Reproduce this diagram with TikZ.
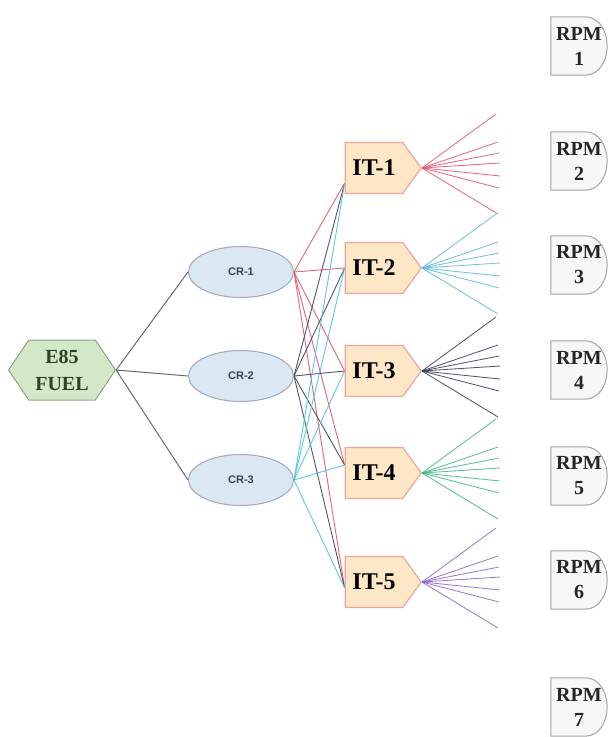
\documentclass[tikz,border=0pt]{standalone}
\usepackage{fontspec}
\setmainfont{Liberation Serif}
\newfontfamily\crfont{Liberation Sans}
\usetikzlibrary{shapes.geometric,shapes.symbols,backgrounds,calc}

\definecolor{fuelfill}{HTML}{D2E8C6}
\definecolor{fueledge}{HTML}{8FA486}
\definecolor{fueltext}{HTML}{2C4426}
\definecolor{crfill}{HTML}{DCE7F4}
\definecolor{credge}{HTML}{9EA8B4}
\definecolor{crtext}{HTML}{3C4450}
\definecolor{itfill}{HTML}{FDE7C6}
\definecolor{itedge}{HTML}{F2A49C}
\definecolor{rpmfill}{HTML}{F7F7F7}
\definecolor{rpmedge}{HTML}{A4A4A4}
\definecolor{feedline}{HTML}{6A6A6A}
\definecolor{crred}{HTML}{E8506A}
\definecolor{crdark}{HTML}{3A4458}
\definecolor{crcyan}{HTML}{44C4E2}
\definecolor{fanred}{HTML}{E2506A}
\definecolor{fanblue}{HTML}{58B6DA}
\definecolor{fannavy}{HTML}{343A58}
\definecolor{fangreen}{HTML}{3EB486}
\definecolor{fanviolet}{HTML}{8A62C8}

\begin{document}
\begin{tikzpicture}[x=1pt,y=-1pt,
  fuelbox/.style={shape=signal, signal to=east and west, signal pointer angle=112,
    fill=fuelfill, draw=fueledge, line width=1pt, minimum width=107pt,
    minimum height=60pt, inner sep=0pt, text=fueltext, align=center,
    font=\bfseries\fontsize{20}{27}\selectfont},
  crbox/.style={ellipse, fill=crfill, draw=credge, line width=1pt,
    minimum width=105pt, minimum height=51pt, inner sep=0pt, text=crtext,
    font=\crfont\bfseries\fontsize{11}{13}\selectfont},
  itbox/.style={shape=signal, signal to=east, signal pointer angle=108,
    fill=itfill, draw=itedge, line width=1.2pt, minimum width=76pt,
    minimum height=51pt, inner sep=0pt, text=black,
    font=\bfseries\fontsize{24}{28}\selectfont},
  rpmbox/.style={draw=none, minimum width=56pt, minimum height=58pt,
    inner sep=0pt, align=center, text=black!85,
    font=\bfseries\fontsize{20}{25}\selectfont},
  rpmoutline/.style={fill=rpmfill, draw=rpmedge, line width=1pt},
  feed/.style={draw=feedline, line width=1pt},
  link/.style={line width=0.9pt, opacity=0.9},
  fan/.style={line width=0.85pt, opacity=0.85}]

\useasboundingbox (0,0) rectangle (615,737);

% source
\node[fuelbox] (fuel) at (62,370) {E85\\FUEL};

% compression ratios
\node[crbox] (cr1) at (241,272) {CR-1};
\node[crbox] (cr2) at (241,376) {CR-2};
\node[crbox] (cr3) at (241,480) {CR-3};

% ignition timings
\node[itbox] (it1) at (374,168) {IT-1};
\node[itbox] (it2) at (374,268) {IT-2};
\node[itbox] (it3) at (374,371) {IT-3};
\node[itbox] (it4) at (374,473) {IT-4};
\node[itbox] (it5) at (374,582) {IT-5};

% engine speeds
\foreach \r/\y in {1/46,2/161,3/265,4/370,5/476,6/580,7/707}
  \node[rpmbox] (rpm\r) at (579,\y) {RPM\\\r};

\begin{scope}[on background layer]
  % D-shaped outlines of the speed nodes
  \foreach \r in {1,...,7}
    \path[rpmoutline] (rpm\r.south west) -- (rpm\r.north west)
      -- ([xshift=-22pt]rpm\r.north east) to[out=0,in=90] (rpm\r.east)
      to[out=-90,in=0] ([xshift=-22pt]rpm\r.south east) -- cycle;

  % fuel to compression ratios
  \foreach \c in {1,2,3}
    \draw[feed] (fuel.east) -- (cr\c.west);

  % compression ratios to ignition timings
  \foreach \c/\col in {1/crred,2/crdark,3/crcyan}
    \foreach \t/\off in {1/15,2/0,3/0,4/-8,5/6}
      \draw[link,\col] (cr\c.east) -- ($(it\t.west)+(0,\off)$);

  % ignition timings fanning out towards the speeds
  \foreach \n/\col in {1/fanred,2/fanblue,3/fannavy,4/fangreen,5/fanviolet}
    \foreach \k/\dx/\dy in {1/74/-54,2/76/-26,3/77/-15,4/78/-5,5/78/8,6/77/20,7/76/46} {
      \coordinate (f\n-\k) at ($(it\n.east)+(\dx,\dy)$);
      \draw[fan,\col] (it\n.east) -- (f\n-\k);
    }
\end{scope}
\end{tikzpicture}
\end{document}
